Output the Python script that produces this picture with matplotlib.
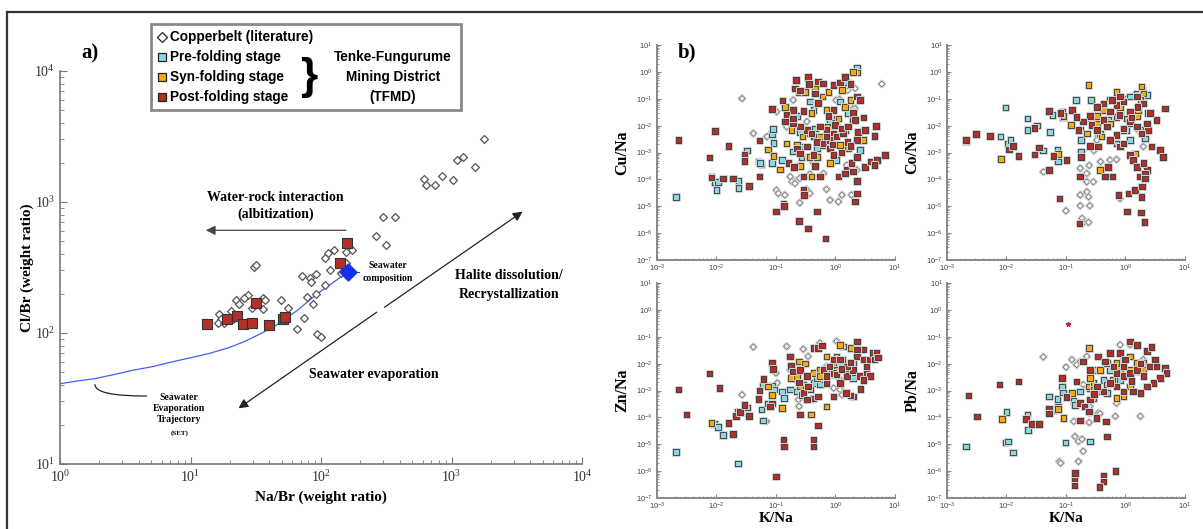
import matplotlib
matplotlib.use("Agg")
import matplotlib.pyplot as plt
import matplotlib.patheffects as pe
from matplotlib.lines import Line2D
from matplotlib.patches import Rectangle
import numpy as np

# ---------------- panel a: Na/Br vs Cl/Br ----------------
lit_nabr = [1780, 1096, 1225, 1510, 610, 635, 742, 851, 1035, 298, 367, 264, 317,
            172, 155, 125, 114, 107, 155, 118, 143, 107, 71, 83, 84, 92, 91, 78, 87,
            74, 65, 93, 100, 49, 56, 30.5, 31.6, 35.7, 37, 35.7, 29.5, 27.6, 25.6,
            22.5, 23.4, 20.3, 16.6, 17.2, 16.1, 18.0, 21.0]
lit_clbr = [3000, 2080, 2200, 1866, 1507, 1340, 1340, 1574, 1483, 762, 762, 547, 472,
            431, 418, 431, 407, 372, 340, 302, 285, 232, 270, 261, 246, 282, 200, 188, 166,
            130, 107, 98, 93, 179, 155, 321, 331, 186, 179, 153, 155, 194, 186,
            179, 165, 148, 140, 128, 120, 120, 128]
post_nabr = [157, 140, 13.4, 19, 22.8, 25.3, 29.5, 32, 40, 50.8, 53]
post_clbr = [487, 340, 118, 128, 134, 117, 119, 169, 116, 128, 132]
seawater = (161, 294)
set_nabr = [1.0, 1.31, 1.84, 2.58, 3.62, 5.1, 7.13, 10, 14.0, 19.7, 25.8, 33.9, 44.4,
            54.3, 66.6, 87.1, 100, 122, 140, 161]
set_clbr = [41, 42.8, 44.8, 48.1, 52, 55.3, 60.0, 64.7, 69.9, 77.3, 86, 98, 113,
            130, 150, 188, 209, 240, 265, 294]

# ---------------- panel b: K/Na vs metal/Na (log10 values) ----------------
cu_post = [(-2.64, -2.54), (-2.02, -2.19), (-1.80, -2.76), (-2.12, -3.18), (-2.08, -3.93),
           (-1.89, -3.96), (-1.72, -3.96), (-1.45, -4.24), (-1.53, -3.09), (-1.53, -3.32),
           (-1.28, -2.56), (-1.28, -3.90), (-1.07, -1.38), (-0.89, -1.07), (-1.0, -5.2),
           (-0.87, -4.89), (-0.86, -5.0), (-0.61, -5.54), (-0.46, -5.83), (-0.31, -5.2),
           (-0.17, -6.2), (-0.79, -3.40), (-0.70, -3.53), (-0.54, -3.9), (-0.54, -4.4),
           (-0.53, -4.58), (-0.34, -3.50), (-0.26, -3.9), (0.05, -3.9), (0.19, -3.65),
           (0.27, -3.40), (0.30, -3.71), (0.36, -3.16), (0.50, -3.53), (0.59, -3.34),
           (0.70, -3.28), (0.83, -3.09), (0.66, -3.47), (0.36, -4.06), (0.36, -4.52),
           (0.33, -4.83), (0.16, -3.78), (-0.66, -0.30), (-0.68, -0.61), (-0.60, -0.70),
           (-0.46, -0.18), (-0.44, -0.45), (-0.29, -0.36), (-0.21, -0.43), (-0.03, -0.49),
           (0.08, -0.40), (0.16, -0.18), (0.25, -0.45), (0.36, -0.92), (0.41, -1.05),
           (0.30, -1.54), (0.33, -1.79), (0.47, -1.69), (0.38, -2.23), (0.50, -2.16),
           (0.68, -2.01), (0.66, -2.39), (0.36, -2.54), (-0.01, -1.98), (-0.03, -2.29),
           (-0.15, -2.16), (-0.26, -2.04), (-0.37, -2.41), (-0.48, -2.16), (-0.60, -2.04),
           (-0.71, -1.92), (-0.71, -1.42), (-0.82, -1.61), (-0.85, -1.85), (-0.65, -2.85),
           (-0.48, -2.78), (-0.31, -2.60), (-0.20, -2.66), (-0.09, -2.54), (0.02, -2.41),
           (0.13, -2.29), (0.10, -2.10), (0.21, -2.04), (-0.09, -2.85), (-0.03, -3.09),
           (-0.37, -3.09), (-0.60, -3.03), (-0.34, -0.80), (-0.03, -1.42), (-0.12, -1.64),
           (-0.29, -1.15), (-0.54, -1.46), (-0.71, -1.73), (-0.40, -2.30), (-0.15, -2.40),
           (0.20, -2.60), (0.25, -2.75), (-0.05, -2.70), (0.10, -3.00)]
cu_syn = [(-2.08, -3.90), (-1.13, -2.88), (-1.04, -3.13), (-0.93, -3.63), (-0.61, -0.77),
          (-0.51, -0.74), (-0.85, -1.30), (-0.72, -1.67), (-0.74, -2.16), (-0.65, -2.72),
          (-0.43, -3.16), (-0.60, -3.50), (-0.40, -3.90), (-0.31, -3.16), (-0.22, -2.72),
          (-0.31, -1.15), (-0.22, -0.92), (-0.12, -0.74), (-0.34, -0.61), (-0.01, -1.89),
          (-0.15, -2.41), (-0.03, -2.66), (0.08, -2.72), (0.21, -2.85), (0.16, -2.16),
          (0.05, -1.73), (0.16, -1.30), (0.25, -1.05), (0.11, -0.67), (0.30, -1.79),
          (0.47, -2.54), (0.36, -0.02), (0.30, 0.0), (-0.40, -1.54), (-0.55, -2.41),
          (-0.13, -2.04), (-0.09, -3.40), (-0.26, -2.41), (-0.82, -2.66), (-0.15, -1.42)]
cu_pre = [(-2.68, -4.65), (-2.02, -4.09), (-2.0, -4.40), (-1.97, -4.09), (-1.63, -4.06),
          (-1.63, -4.33), (-1.49, -2.93), (-1.29, -3.34), (-1.24, -3.44), (-1.07, -3.40),
          (-1.04, -2.64), (-1.07, -2.31), (-1.05, -2.13), (-1.27, -3.38), (-0.90, -3.28),
          (-0.71, -2.97), (-0.60, -2.85), (-0.57, -3.16), (-0.54, -2.78), (-0.43, -2.29),
          (-0.34, -2.10), (-0.37, -1.42), (-0.43, -1.11), (-0.65, -1.64), (-0.74, -1.77),
          (-0.60, -2.23), (-0.31, -2.85), (-0.20, -2.66), (-0.03, -2.41), (-0.09, -1.85),
          (0.02, -1.73), (0.08, -1.11), (0.11, -0.65), (0.21, -0.49), (0.19, -0.40),
          (0.36, 0.17), (0.02, -3.28), (0.19, -2.72), (0.41, -2.91), (0.30, -1.48),
          (0.21, -1.54), (0.16, -2.85), (0.02, -1.92)]
cu_lit = [(-1.57, -0.99), (-1.38, -2.29), (-1.15, -2.41), (-0.99, -1.48), (-0.99, -4.40),
          (-0.96, -4.52), (-0.85, -4.58), (-0.65, -4.03), (-0.73, -4.09), (-0.68, -4.15),
          (-0.60, -3.96), (-0.76, -3.90), (-0.60, -4.87), (-0.49, -4.37), (-0.43, -3.80),
          (-0.37, -3.40), (-0.20, -3.78), (-0.15, -4.37), (-0.09, -4.77), (0.05, -4.83),
          (0.11, -4.58), (0.27, -4.58), (-0.43, -4.52), (-0.71, -2.16), (-0.82, -2.04),
          (-0.48, -1.85), (-0.71, -1.05), (0.01, -1.05), (0.07, -1.02), (0.21, -0.67),
          (0.33, -0.61), (0.33, -1.36), (0.25, -1.23), (0.78, -0.45), (0.19, -3.47),
          (0.36, -3.65)]

co_post = [(-2.68, -2.54), (-2.51, -2.31), (-2.28, -2.39), (-1.96, -2.88), (-1.89, -2.76),
           (-1.80, -3.13), (-1.53, -2.08), (-1.53, -3.08), (-1.45, -2.82), (-1.29, -1.46),
           (-1.21, -3.13), (-1.29, -3.65), (-1.09, -1.54), (-0.99, -3.28), (-1.11, -4.71),
           (-0.90, -1.42), (-0.79, -2.16), (-0.75, -3.16), (-0.76, -3.90), (-0.77, -5.64),
           (-0.57, -1.98), (-0.46, -2.78), (-0.37, -1.79), (-0.34, -3.90), (-0.29, -3.53),
           (-0.22, -3.90), (-0.09, -2.78), (-0.12, -4.58), (0.03, -5.20), (0.05, -4.52),
           (0.08, -3.09), (0.13, -3.28), (0.19, -3.53), (0.16, -4.40), (0.24, -3.90),
           (0.28, -4.27), (0.36, -3.65), (0.27, -4.65), (0.26, -5.23), (0.32, -5.58),
           (0.33, -3.78), (0.33, -3.96), (0.30, -3.40), (0.44, -2.78), (0.58, -2.91),
           (0.66, -1.36), (0.52, -1.79), (0.38, -2.16), (0.41, -1.54), (0.30, -1.17),
           (0.19, -0.92), (-0.03, -1.11), (-0.15, -1.23), (-0.26, -1.48), (-0.37, -1.17),
           (-0.48, -1.30), (-0.60, -1.64), (-0.71, -1.85), (-0.82, -1.67), (-0.60, -2.76),
           (-0.03, -2.10), (0.08, -1.85), (0.19, -2.04), (-0.03, -2.66), (-0.15, -2.35),
           (-0.26, -2.54), (-0.31, -2.04), (-0.48, -2.16), (-0.23, -1.05), (-0.09, -0.92),
           (0.08, -1.48), (0.63, -3.16), (0.36, -1.92), (0.27, -2.29), (-0.10, -1.60),
           (0.10, -1.70), (0.20, -1.30)]
co_syn = [(-2.09, -3.24), (-1.13, -3.06), (-1.04, -1.64), (-0.92, -1.98), (-0.76, -2.16),
          (-0.62, -0.49), (-0.65, -2.29), (-0.60, -2.78), (-0.43, -3.65), (-0.40, -2.41),
          (-0.26, -1.05), (-0.15, -0.74), (-0.03, -1.11), (-0.15, -1.67), (-0.26, -1.92),
          (-0.48, -1.92), (-0.37, -1.42), (0.02, -1.73), (0.19, -1.64), (0.27, -0.55),
          (0.30, -0.80), (0.25, -1.05), (0.21, -1.42), (0.08, -1.92), (-0.03, -2.16),
          (0.16, -3.03), (-0.09, -1.30), (-0.48, -1.64), (-0.60, -1.73), (0.38, -1.54)]
co_pre = [(-2.68, -2.57), (-2.02, -1.33), (-2.10, -2.41), (-1.97, -2.66), (-1.93, -2.54),
          (-1.65, -1.73), (-1.65, -2.16), (-1.49, -2.0), (-1.39, -2.93), (-1.27, -2.23),
          (-1.14, -2.88), (-1.13, -3.34), (-1.23, -1.61), (-1.06, -1.48), (-1.05, -1.69),
          (-0.83, -1.05), (-0.75, -2.54), (-0.75, -2.97), (-0.58, -1.05), (-0.43, -2.29),
          (-0.29, -1.79), (-0.09, -1.61), (-0.03, -0.99), (0.08, -0.92), (0.19, -0.80),
          (0.29, -0.67), (0.36, -0.86), (0.08, -2.54), (0.25, -2.16), (0.33, -2.48),
          (-0.09, -2.78), (-0.15, -2.66), (0.16, -1.54), (0.02, -2.16)]
co_lit = [(-1.38, -3.72), (-1.0, -5.17), (-0.76, -3.59), (-0.76, -4.58), (-0.76, -4.98),
          (-0.73, -5.45), (-0.71, -5.61), (-0.65, -4.46), (-0.65, -3.78), (-0.65, -4.09),
          (-0.62, -4.65), (-0.61, -3.48), (-0.60, -4.98), (-0.62, -5.60), (-0.54, -4.09),
          (-0.53, -2.93), (-0.46, -2.41), (-0.42, -3.34), (-0.26, -3.28), (-0.15, -3.26),
          (-0.09, -4.71), (0.30, -2.78), (0.21, -2.16), (-0.48, -2.54)]

zn_post = [(-2.64, -2.97), (-2.50, -3.90), (-2.12, -2.37), (-1.95, -2.91), (-1.80, -4.21),
           (-1.72, -4.62), (-1.67, -3.94), (-1.60, -3.81), (-1.53, -3.53), (-1.45, -3.94),
           (-1.29, -3.32), (-1.21, -2.57), (-1.07, -1.98), (-1.05, -2.20), (-1.28, -3.0),
           (-1.07, -3.49), (-1.10, -3.59), (-1.0, -6.20), (-0.87, -4.83), (-0.86, -5.08),
           (-0.76, -1.73), (-0.75, -2.08), (-0.71, -2.29), (-0.60, -2.23), (-0.61, -2.70),
           (-0.54, -3.09), (-0.60, -3.90), (-0.48, -2.47), (-0.46, -2.85), (-0.37, -1.42),
           (-0.29, -1.42), (-0.38, -3.29), (-0.37, -4.83), (-0.37, -5.08), (-0.29, -4.31),
           (-0.23, -1.33), (-0.20, -2.23), (-0.15, -2.72), (-0.03, -2.35), (0.08, -2.72),
           (0.19, -2.47), (0.30, -2.23), (0.41, -2.47), (0.52, -2.35), (0.36, -1.73),
           (0.47, -1.85), (0.36, -1.17), (0.47, -1.48), (0.58, -1.85), (0.63, -1.60),
           (0.66, -1.85), (0.52, -2.10), (0.30, -3.22), (0.25, -3.19), (0.18, -3.09),
           (0.42, -2.95), (0.69, -1.58), (0.72, -1.77), (0.58, -2.47), (0.47, -2.60),
           (-0.03, -1.85), (0.08, -1.85), (0.19, -2.10), (0.02, -2.41), (-0.15, -2.47),
           (-0.03, -3.22), (0.36, -1.48), (-0.29, -3.22), (-0.48, -3.34), (0.10, -2.20),
           (0.25, -1.95), (-0.10, -2.10)]
zn_syn = [(-2.08, -4.21), (-1.07, -3.16), (-1.13, -2.85), (-0.90, -3.65), (-0.75, -2.54),
          (-0.65, -2.47), (-0.61, -1.92), (-0.51, -2.0), (-0.60, -2.85), (-0.43, -2.97),
          (-0.41, -3.90), (-0.37, -2.35), (-0.26, -2.23), (-0.15, -1.73), (-0.12, -2.10),
          (-0.06, -2.35), (0.02, -1.73), (0.11, -1.85), (0.21, -2.10), (0.08, -1.30),
          (0.25, -1.42), (0.36, -1.60), (-0.15, -3.59), (-0.03, -1.98), (-0.26, -2.47),
          (0.02, -2.23)]
zn_pre = [(-2.68, -5.29), (-2.03, -4.24), (-1.97, -4.36), (-1.89, -4.65), (-1.64, -5.72),
          (-1.64, -3.81), (-1.49, -3.63), (-1.22, -2.82), (-1.24, -3.71), (-1.22, -4.12),
          (-1.13, -3.49), (-1.07, -2.82), (-1.03, -2.97), (-0.90, -3.03), (-0.86, -3.28),
          (-0.76, -2.97), (-0.65, -3.03), (-0.57, -3.16), (-0.48, -2.91), (-0.37, -2.72),
          (-0.26, -2.78), (-0.09, -2.41), (-0.03, -2.23), (0.08, -2.08), (0.19, -2.16),
          (0.30, -1.98), (0.13, -1.36), (0.30, -2.54), (-0.31, -2.54), (-0.54, -2.78)]
zn_lit = [(-1.38, -1.38), (-1.57, -3.16), (-1.16, -4.15), (-1.0, -2.35), (-0.98, -2.72),
          (-0.82, -1.36), (-0.76, -2.23), (-0.62, -3.34), (-0.61, -3.59), (-0.54, -1.46),
          (-0.46, -1.73), (-0.26, -1.23), (-0.15, -2.10), (0.02, -1.17), (0.08, -2.97),
          (0.11, -3.16), (-0.03, -2.91), (0.08, -2.60), (-0.37, -3.34), (-0.60, -3.09)]

pb_post = [(-2.64, -3.19), (-2.50, -3.96), (-2.12, -2.78), (-1.80, -2.66), (-1.67, -4.06),
           (-1.57, -4.25), (-1.45, -4.25), (-1.29, -3.68), (-1.29, -3.86), (-1.07, -2.54),
           (-0.99, -3.24), (-0.86, -6.28), (-0.85, -6.07), (-0.86, -6.54), (-0.82, -2.66),
           (-0.76, -3.47), (-0.76, -4.12), (-0.69, -3.59), (-0.61, -3.78), (-0.60, -3.34),
           (-0.53, -3.12), (-0.49, -4.02), (-0.37, -6.19), (-0.37, -6.38), (-0.44, -6.60),
           (-0.33, -4.15), (-0.31, -4.71), (-0.17, -6.0), (-0.60, -2.23), (-0.46, -1.73),
           (-0.34, -1.92), (-0.26, -1.60), (-0.09, -1.60), (-0.01, -1.85), (0.08, -1.17),
           (0.19, -1.30), (0.36, -1.54), (0.44, -1.38), (0.41, -2.10), (0.50, -1.85),
           (0.52, -2.10), (0.66, -2.16), (0.69, -2.35), (0.58, -2.54), (0.47, -2.72),
           (0.36, -2.85), (0.25, -3.09), (0.13, -3.03), (-0.03, -3.03), (-0.15, -2.85),
           (-0.26, -2.72), (-0.37, -3.03), (-0.48, -2.85), (-0.03, -2.47), (0.08, -2.35),
           (0.19, -2.23), (0.30, -2.47), (-0.03, -2.10), (-0.15, -2.35), (-0.71, -1.92),
           (0.10, -2.65), (0.25, -2.00), (-0.20, -2.10)]
pb_syn = [(-2.08, -4.06), (-1.04, -4.02), (-1.13, -3.69), (-0.90, -3.09), (-0.61, -1.42),
          (-0.62, -2.85), (-0.54, -2.72), (-0.43, -2.23), (-0.31, -2.78), (-0.31, -1.98),
          (-0.22, -2.60), (-0.15, -3.28), (-0.09, -2.23), (-0.01, -2.47), (0.08, -2.85),
          (0.19, -2.29), (0.30, -2.23), (-0.15, -1.98), (-0.03, -1.85), (0.08, -1.73),
          (0.19, -1.98), (-0.54, -2.97), (-0.43, -3.03), (-0.03, -3.22), (0.08, -2.23),
          (-0.60, -2.54)]
pb_pre = [(-2.68, -5.08), (-2.02, -4.93), (-1.97, -4.89), (-2.0, -3.81), (-1.89, -5.30),
          (-1.65, -3.90), (-1.64, -4.46), (-1.29, -3.22), (-1.22, -3.74), (-1.13, -3.59),
          (-1.14, -3.32), (-1.07, -2.85), (-1.05, -3.07), (-1.01, -4.93), (-0.87, -3.40),
          (-0.85, -3.53), (-0.76, -3.03), (-0.68, -3.59), (-0.60, -2.91), (-0.54, -3.28),
          (-0.37, -2.60), (-0.26, -2.23), (-0.15, -2.78), (-0.03, -2.10), (0.08, -2.35),
          (0.19, -2.10), (0.30, -1.98), (-0.48, -2.23), (-0.09, -2.60), (-0.31, -3.09),
          (-0.60, -4.89)]
pb_lit = [(-1.38, -1.75), (-1.0, -2.13), (-1.11, -5.64), (-1.09, -5.70), (-0.87, -4.15),
          (-0.85, -4.71), (-0.79, -4.89), (-0.73, -4.81), (-0.71, -5.26), (-0.79, -5.64),
          (-0.71, -2.78), (-0.61, -4.19), (-0.60, -3.84), (-0.46, -3.84), (-0.43, -3.86),
          (-0.17, -3.96), (0.25, -3.96), (-0.90, -1.85), (-0.82, -2.04), (-0.76, -1.92),
          (-0.65, -1.73), (-0.09, -1.30), (0.08, -1.30), (-0.31, -2.85), (-0.60, -3.59),
          (-0.15, -3.47), (0.30, -1.85)]
pb_other = [(-0.97, -0.51)]

C_PRE, C_SYN, C_POST = "#86d9e3", "#f2ac12", "#b3302a"
SERIF = "Liberation Serif"
SANS = "Liberation Sans"

fig = plt.figure(figsize=(12.03, 5.29), dpi=100)
fig.add_artist(Line2D([0.0058, 1.0], [0.978, 0.978], color="#333333", lw=1.6))
fig.add_artist(Line2D([0.0058, 0.0058], [0.0, 0.978], color="#333333", lw=1.6))

# ---------------- panel a ----------------
ax = fig.add_axes([0.0499, 0.1229, 0.4339, 0.7429])
ax.set_xscale("log")
ax.set_yscale("log")
ax.set_xlim(1, 1e4)
ax.set_ylim(10, 1e4)
for s in ["top", "right"]:
    ax.spines[s].set_visible(False)
for s in ["left", "bottom"]:
    ax.spines[s].set_color("#777777")
    ax.spines[s].set_linewidth(1.2)
ax.tick_params(which="both", direction="in", colors="#777777", labelcolor="#333333",
               labelsize=10, labelfontfamily=SERIF)
ax.tick_params(which="major", length=5)
ax.tick_params(which="minor", length=3)

ax.plot(set_nabr, set_clbr, color="#4a5cf0", lw=0.9, zorder=2)
ax.scatter(lit_nabr, lit_clbr, marker="D", s=16, facecolor="white", edgecolor="#555555",
           linewidth=0.9, zorder=3)
ax.scatter(post_nabr, post_clbr, marker="s", s=62, facecolor=C_POST, edgecolor="#333333",
           linewidth=0.8, zorder=4)
ax.scatter([seawater[0]], [seawater[1]], marker="D", s=75, facecolor="#1430f0",
           edgecolor="#1430f0", zorder=5)

arrow_kw = dict(arrowstyle="-|>", mutation_scale=14, lw=0.9, color="#222222",
                shrinkA=0, shrinkB=0)
ax.annotate("", xy=(13.1, 608), xytext=(155, 608),
            arrowprops=dict(arrow_kw, color="#444444"))
ax.annotate("", xy=(23.3, 26.6), xytext=(267, 144), arrowprops=arrow_kw)
ax.annotate("", xy=(3500, 843), xytext=(306, 157), arrowprops=arrow_kw)
ax.plot([161, 195], [294, 294], color="#444444", lw=0.8, zorder=4)

ax.text(45, 930, "Water-rock interaction\n(albitization)", ha="center", va="center",
        fontsize=10, fontweight="bold", family=SERIF, linespacing=1.3)
ax.text(2770, 232, "Halite dissolution/\nRecrystallization", ha="center", va="center",
        fontsize=10, fontweight="bold", family=SERIF, linespacing=1.65)
ax.text(256, 47.8, "Seawater evaporation", ha="center", va="center",
        fontsize=10, fontweight="bold", family=SERIF)
ax.text(325, 292, "Seawater\ncomposition", ha="center", va="center",
        fontsize=7, fontweight="bold", family=SERIF, linespacing=1.45)
ax.text(8.2, 26.7, "Seawater\nEvaporation\nTrajectory", ha="center", va="center",
        fontsize=7, fontweight="bold", family=SERIF, linespacing=1.29)
ax.text(8.2, 17.3, "(SET)", ha="center", va="center",
        fontsize=5, fontweight="bold", family=SERIF)
ax.annotate("", xy=(4.6, 33), xytext=(1.85, 40.4),
            arrowprops=dict(arrowstyle="-", lw=0.9, color="#222222", shrinkA=0,
                            shrinkB=0, connectionstyle="angle3,angleA=90,angleB=0"))

ax.set_xlabel("Na/Br (weight ratio)", fontsize=11, fontweight="bold", family=SERIF,
              labelpad=4)
ax.set_ylabel("Cl/Br (weight ratio)", fontsize=11, fontweight="bold", family=SERIF,
              labelpad=0)
fig.text(0.068, 0.898, "a)", fontsize=15, fontweight="bold", family=SERIF,
         ha="left", va="center")

# legend box
fig.add_artist(Rectangle((151 / 1203, 1 - 110 / 529), 310 / 1203, 86 / 529,
                         transform=fig.transFigure, facecolor="white",
                         edgecolor="#8a8a8a", lw=2.0))
rows = [("D", "white", "Copperbelt (literature)"),
        ("s", C_PRE, "Pre-folding stage"),
        ("s", C_SYN, "Syn-folding stage"),
        ("s", C_POST, "Post-folding stage")]
for i, (m, fc, lab) in enumerate(rows):
    yy = 1 - (37 + 20 * i) / 529
    fig.add_artist(Line2D([162 / 1203], [yy], marker=m, markersize=6 if m == "s" else 5,
                          markerfacecolor=fc, markeredgecolor="#222222",
                          markeredgewidth=0.9, linestyle="none"))
    fig.text(170 / 1203, yy, lab, fontsize=9.8, fontweight="bold", family=SANS,
             ha="left", va="center")
fig.text(309 / 1203, 1 - 78 / 529, "}", fontsize=32, fontweight="bold", family=SANS,
         ha="center", va="center")
for i, lab in enumerate(["Tenke-Fungurume", "Mining District", "(TFMD)"]):
    fig.text(393 / 1203, 1 - (57 + 20 * i) / 529, lab, fontsize=9.8, fontweight="bold",
             family=SANS, ha="center", va="center")

# ---------------- panel b ----------------
positions = {"Cu/Na": [0.5461, 0.5085], "Co/Na": [0.7872, 0.5085],
             "Zn/Na": [0.5461, 0.0586], "Pb/Na": [0.7872, 0.0586]}
panels = [("Cu/Na", cu_lit, cu_pre, cu_syn, cu_post, False),
          ("Co/Na", co_lit, co_pre, co_syn, co_post, False),
          ("Zn/Na", zn_lit, zn_pre, zn_syn, zn_post, True),
          ("Pb/Na", pb_lit, pb_pre, pb_syn, pb_post, True)]
halo = [pe.withStroke(linewidth=2.2, foreground="#d0d0d0")]
for name, lit, pre, syn, post, bottom in panels:
    l, b = positions[name]
    bx = fig.add_axes([l, b, 0.1978, 0.4064])
    bx.set_xscale("log")
    bx.set_yscale("log")
    bx.set_xlim(1e-3, 10)
    bx.set_ylim(1e-7, 10)
    for s in ["top", "right"]:
        bx.spines[s].set_visible(False)
    for s in ["left", "bottom"]:
        bx.spines[s].set_color("#888888")
        bx.spines[s].set_linewidth(1.4)
    bx.tick_params(which="both", direction="in", colors="#888888", labelcolor="#444444",
                   labelsize=5.5, labelfontfamily=SANS)
    bx.tick_params(axis="y", pad=3)
    bx.tick_params(axis="x", pad=2)
    bx.tick_params(which="major", length=3)
    bx.tick_params(which="minor", length=1.5)
    bx.set_yticks([10.0 ** k for k in range(-7, 2)])
    bx.set_xticks([10.0 ** k for k in range(-3, 2)])
    for data, mk, fc, ec, sz in [(lit, "D", "white", "#777777", 9),
                                 (pre, "s", C_PRE, "#333333", 16),
                                 (syn, "s", C_SYN, "#333333", 16),
                                 (post, "s", C_POST, "#333333", 16)]:
        arr = 10.0 ** np.array(data)
        bx.scatter(arr[:, 0], arr[:, 1], marker=mk, s=sz, facecolor=fc, edgecolor=ec,
                   linewidth=0.6, path_effects=halo, zorder=3)
    if name == "Pb/Na":
        arr = 10.0 ** np.array(pb_other)
        bx.scatter(arr[:, 0], arr[:, 1], marker="*", s=10, color="#c0206a", zorder=4)
    bx.set_ylabel(name, fontsize=11.5, fontweight="bold", family=SERIF, labelpad=4)
    if bottom:
        bx.set_xlabel("K/Na", fontsize=11, fontweight="bold", family=SERIF, labelpad=0)

fig.text(0.5635, 0.9, "b)", fontsize=15, fontweight="bold", family=SERIF,
         ha="left", va="center")

fig.savefig("out.png", dpi=100)
